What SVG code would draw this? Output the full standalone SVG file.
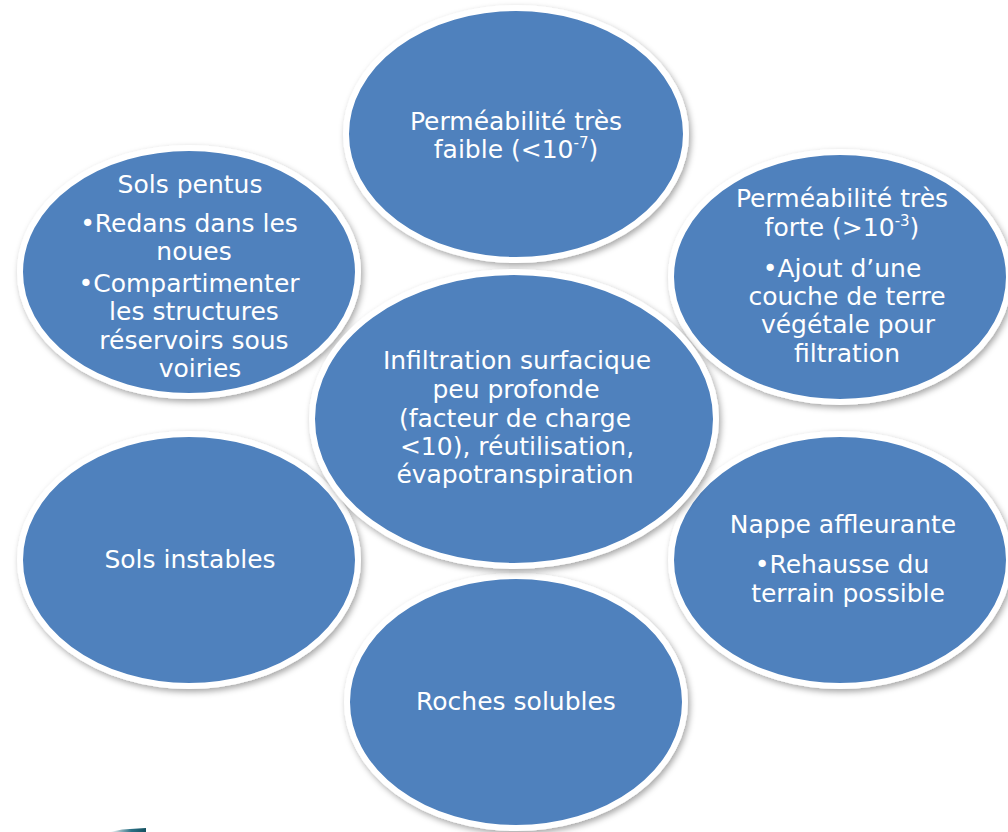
<svg xmlns="http://www.w3.org/2000/svg" width="1008" height="832" viewBox="0 0 1008 832">
  <defs>
    <filter id="shadow" x="-10%" y="-10%" width="125%" height="125%">
      <feDropShadow dx="2" dy="3" stdDeviation="3" flood-color="#000" flood-opacity="0.35"/>
    </filter>
    <linearGradient id="teal" x1="0" y1="0" x2="1" y2="0">
      <stop offset="0" stop-color="#1b5e70" stop-opacity="0"/>
      <stop offset="0.6" stop-color="#2a7085"/>
      <stop offset="1" stop-color="#14505f"/>
    </linearGradient>
    <style>
      .node ellipse { fill: #4F81BD; stroke: #ffffff; stroke-width: 6; filter: url(#shadow); }
      .node text { font-family: "DejaVu Sans", "Liberation Sans", sans-serif; font-size: 25px; fill: #ffffff; text-anchor: middle; }
      .sup { font-size: 15px; }
    </style>
  </defs>
  <rect x="0" y="0" width="1008" height="832" fill="#ffffff"/>

  <g id="connectors"></g>

  <g id="node-top" class="node">
    <ellipse cx="516" cy="134" rx="170" ry="126"/>
    <text x="516" y="130">Perméabilité très</text>
    <text x="516" y="158">faible (&lt;10<tspan class="sup" dy="-10">-7</tspan><tspan dy="10">)</tspan></text>
  </g>

  <g id="node-top-left" class="node">
    <ellipse cx="189" cy="272" rx="169" ry="124"/>
    <text x="190" y="193">Sols pentus</text>
    <text x="189" y="232">•Redans dans les</text>
    <text x="194" y="260">noues</text>
    <text x="189" y="292">•Compartimenter</text>
    <text x="194" y="320">les structures</text>
    <text x="194" y="349">réservoirs sous</text>
    <text x="200" y="377">voiries</text>
  </g>

  <g id="node-top-right" class="node">
    <ellipse cx="840" cy="277" rx="169" ry="125"/>
    <text x="842" y="207">Perméabilité très</text>
    <text x="842" y="236">forte (&gt;10<tspan class="sup" dy="-10">-3</tspan><tspan dy="10">)</tspan></text>
    <text x="842" y="277">•Ajout d’une</text>
    <text x="847" y="305">couche de terre</text>
    <text x="848" y="333">végétale pour</text>
    <text x="847" y="362">filtration</text>
  </g>

  <g id="node-left" class="node">
    <ellipse cx="189" cy="560" rx="169" ry="126"/>
    <text x="190" y="568">Sols instables</text>
  </g>

  <g id="node-bottom-right" class="node">
    <ellipse cx="840" cy="560" rx="169" ry="126"/>
    <text x="843" y="533">Nappe affleurante</text>
    <text x="842" y="573">•Rehausse du</text>
    <text x="848" y="602">terrain possible</text>
  </g>

  <g id="node-bottom" class="node">
    <ellipse cx="516" cy="702" rx="169" ry="126"/>
    <text x="516" y="710">Roches solubles</text>
  </g>

  <g id="node-center" class="node">
    <ellipse cx="514" cy="419" rx="202" ry="147"/>
    <text x="517" y="369">Infiltration surfacique</text>
    <text x="516" y="398">peu profonde</text>
    <text x="515" y="427">(facteur de charge</text>
    <text x="517" y="455">&lt;10), réutilisation,</text>
    <text x="515" y="483">évapotranspiration</text>
  </g>

  <polygon points="110,832 122,829.5 146,828 146,832" fill="url(#teal)"/>
</svg>
